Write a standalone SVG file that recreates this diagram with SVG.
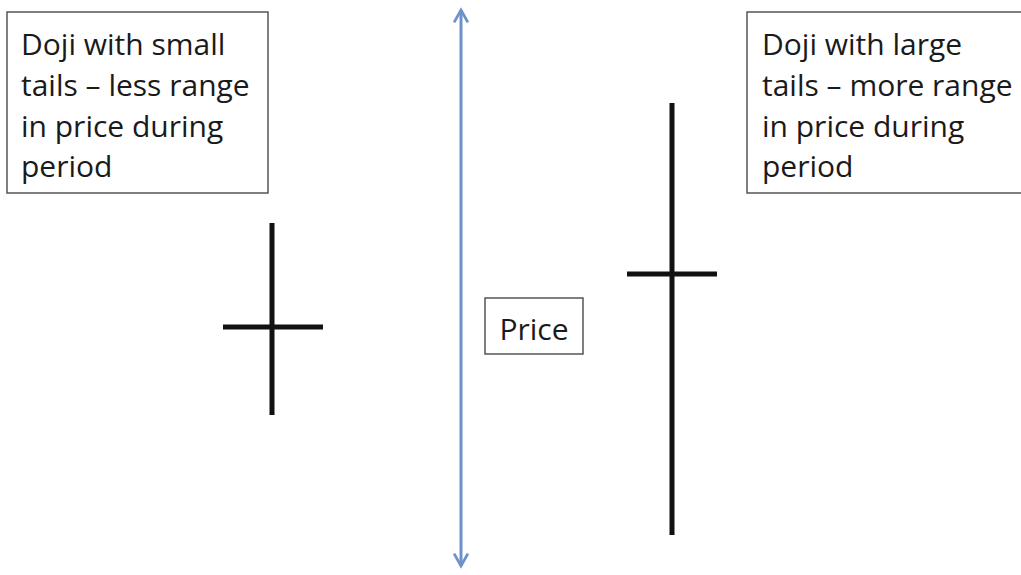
<svg xmlns="http://www.w3.org/2000/svg" width="1021" height="575" viewBox="0 0 1021 575">
<style>
.box{fill:#fff;stroke:#555;stroke-width:1.5}
.t{font-family:"Open Sans","Liberation Sans",sans-serif;font-size:30px;fill:#1a1a1a}
.stick{stroke:#111;stroke-width:5;fill:none}
.arr{stroke:#6f91c9;stroke-width:3;fill:none}
</style>
<defs>
<marker id="ah" viewBox="0 0 12 12" refX="10" refY="6" markerWidth="5.5" markerHeight="5.5" orient="auto-start-reverse" markerUnits="strokeWidth">
<path d="M1,1 L10,6 L1,11" fill="none" stroke="#6f91c9" stroke-width="2" stroke-linejoin="miter"/>
</marker>
</defs>
<rect width="1021" height="575" fill="#fff"/>
<g id="connectors">
<line class="arr" x1="461" y1="10" x2="461" y2="566" marker-start="url(#ah)" marker-end="url(#ah)"/>
</g>
<g id="label-left">
<rect class="box" x="7" y="12" width="261" height="181"/>
<text class="t"><tspan x="21" y="55">Doji with small</tspan><tspan x="21" y="96">tails – less range</tspan><tspan x="21" y="137">in price during</tspan><tspan x="21" y="177">period</tspan></text>
</g>
<g id="label-right">
<rect class="box" x="747" y="12" width="290" height="181"/>
<text class="t"><tspan x="762" y="55">Doji with large</tspan><tspan x="762" y="96">tails – more range</tspan><tspan x="762" y="137">in price during</tspan><tspan x="762" y="177">period</tspan></text>
</g>
<g id="price">
<rect class="box" x="485" y="298" width="98" height="56"/>
<text class="t" x="534" y="340" text-anchor="middle">Price</text>
</g>
<g id="doji-small">
<line class="stick" x1="272" y1="223" x2="272" y2="415"/>
<line class="stick" x1="223" y1="327" x2="323" y2="327"/>
</g>
<g id="doji-large">
<line class="stick" x1="672" y1="103" x2="672" y2="535"/>
<line class="stick" x1="627" y1="274" x2="717" y2="274"/>
</g>
</svg>
